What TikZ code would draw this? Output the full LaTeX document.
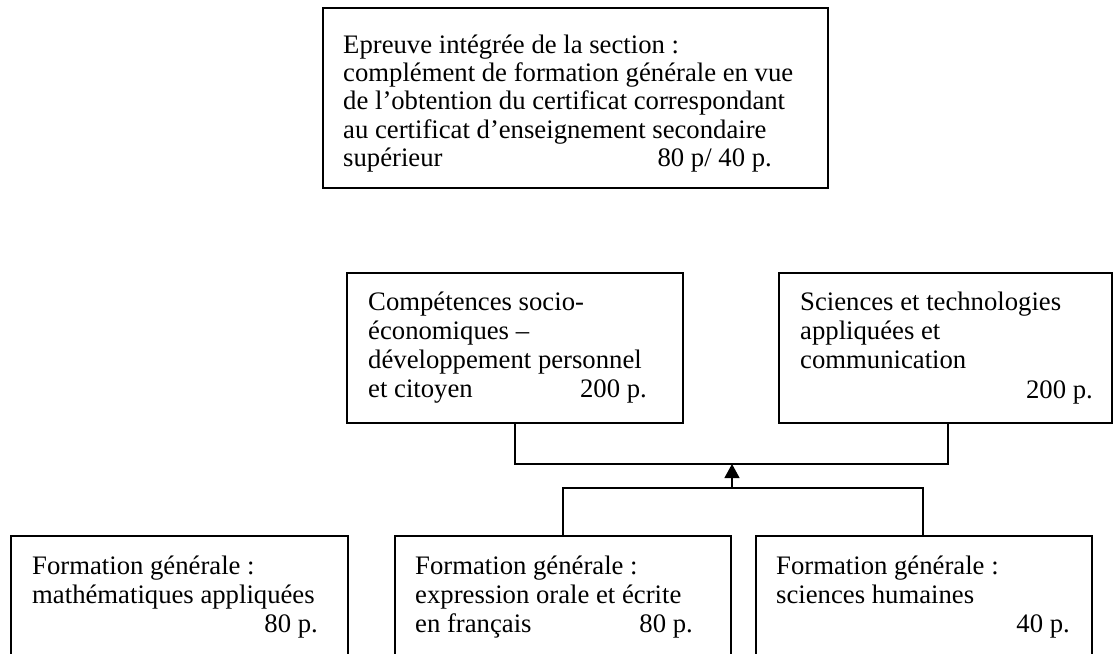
\documentclass[tikz,border=0pt]{standalone}
\usepackage{fontspec}
\setmainfont{Liberation Serif}
\usetikzlibrary{arrows.meta}
\tikzset{
  boxnode/.style={draw=black, line width=1.2pt, rectangle, inner sep=0pt, fill=none},
  ln/.style={anchor=base west, inner sep=0pt, font=\fontsize{26.7}{29}\selectfont},
  num/.style={anchor=base east, inner sep=0pt, font=\fontsize{26.7}{29}\selectfont},
  conn/.style={draw=black, line width=1.2pt},
}
\begin{document}
\begin{tikzpicture}[x=1pt, y=-1pt]
\useasboundingbox (0,0) rectangle (1113,653);
\clip (0,0) rectangle (1113,653);
\fill[white] (0,0) rectangle (1113,653);

% boxes
\node[boxnode, minimum width=505pt, minimum height=180pt] (top) at (575.5,98) {};
\node[boxnode, minimum width=336pt, minimum height=150pt] (comp) at (515,348) {};
\node[boxnode, minimum width=333pt, minimum height=150pt] (sci) at (945.5,348) {};
\node[boxnode, minimum width=337pt, minimum height=184pt] (math) at (179.5,628) {};
\node[boxnode, minimum width=336pt, minimum height=184pt] (fran) at (563,628) {};
\node[boxnode, minimum width=336pt, minimum height=184pt] (hum) at (924,628) {};

% top box text
\node[ln] (t1) at (343,53) {Epreuve intégrée de la section :};
\node[ln] (t2) at (343,81) {complément de formation générale en vue};
\node[ln] (t3) at (343,109) {de l’obtention du certificat correspondant};
\node[ln] (t4) at (343,138) {au certificat d’enseignement secondaire};
\node[ln] (t5) at (343,166) {supérieur};
\node[num] (t6) at (772,166) {80 p/ 40 p.};

% competences
\node[ln] (c1) at (368,310) {Compétences socio-};
\node[ln] (c2) at (368,339) {économiques –};
\node[ln] (c3) at (368,368) {développement personnel};
\node[ln] (c4) at (368,397) {et citoyen};
\node[num] (c5) at (647,397) {200 p.};

% sciences
\node[ln] (s1) at (800,310) {Sciences et technologies};
\node[ln] (s2) at (800,339) {appliquées et};
\node[ln] (s3) at (800,368) {communication};
\node[num] (s4) at (1093,398) {200 p.};

% bottom boxes
\node[ln] (m1) at (32,574) {Formation générale :};
\node[ln] (m2) at (32,603) {mathématiques appliquées};
\node[num] (m3) at (318,632) {80 p.};

\node[ln] (f1) at (415,574) {Formation générale :};
\node[ln] (f2) at (415,603) {expression orale et écrite};
\node[ln] (f3) at (415,632) {en français};
\node[num] (f4) at (693,632) {80 p.};

\node[ln] (h1) at (776,574) {Formation générale :};
\node[ln] (h2) at (776,603) {sciences humaines};
\node[num] (h3) at (1070,632) {40 p.};

% connectors
\coordinate (uL) at (515,464);
\coordinate (uR) at (948,464);
\coordinate (lL) at (563,488);
\coordinate (lR) at (923,488);
\coordinate (aB) at (732,488);
\coordinate (aT) at (732,464);

\draw[conn] (comp.south -| uL) -- (uL) -- (uR) -- (sci.south -| uR);
\draw[conn] (fran.north -| lL) -- (lL) -- (lR) -- (hum.north -| lR);
\draw[conn, -{Triangle[length=14pt, width=15pt]}] (aB) -- (aT);
\end{tikzpicture}
\end{document}
